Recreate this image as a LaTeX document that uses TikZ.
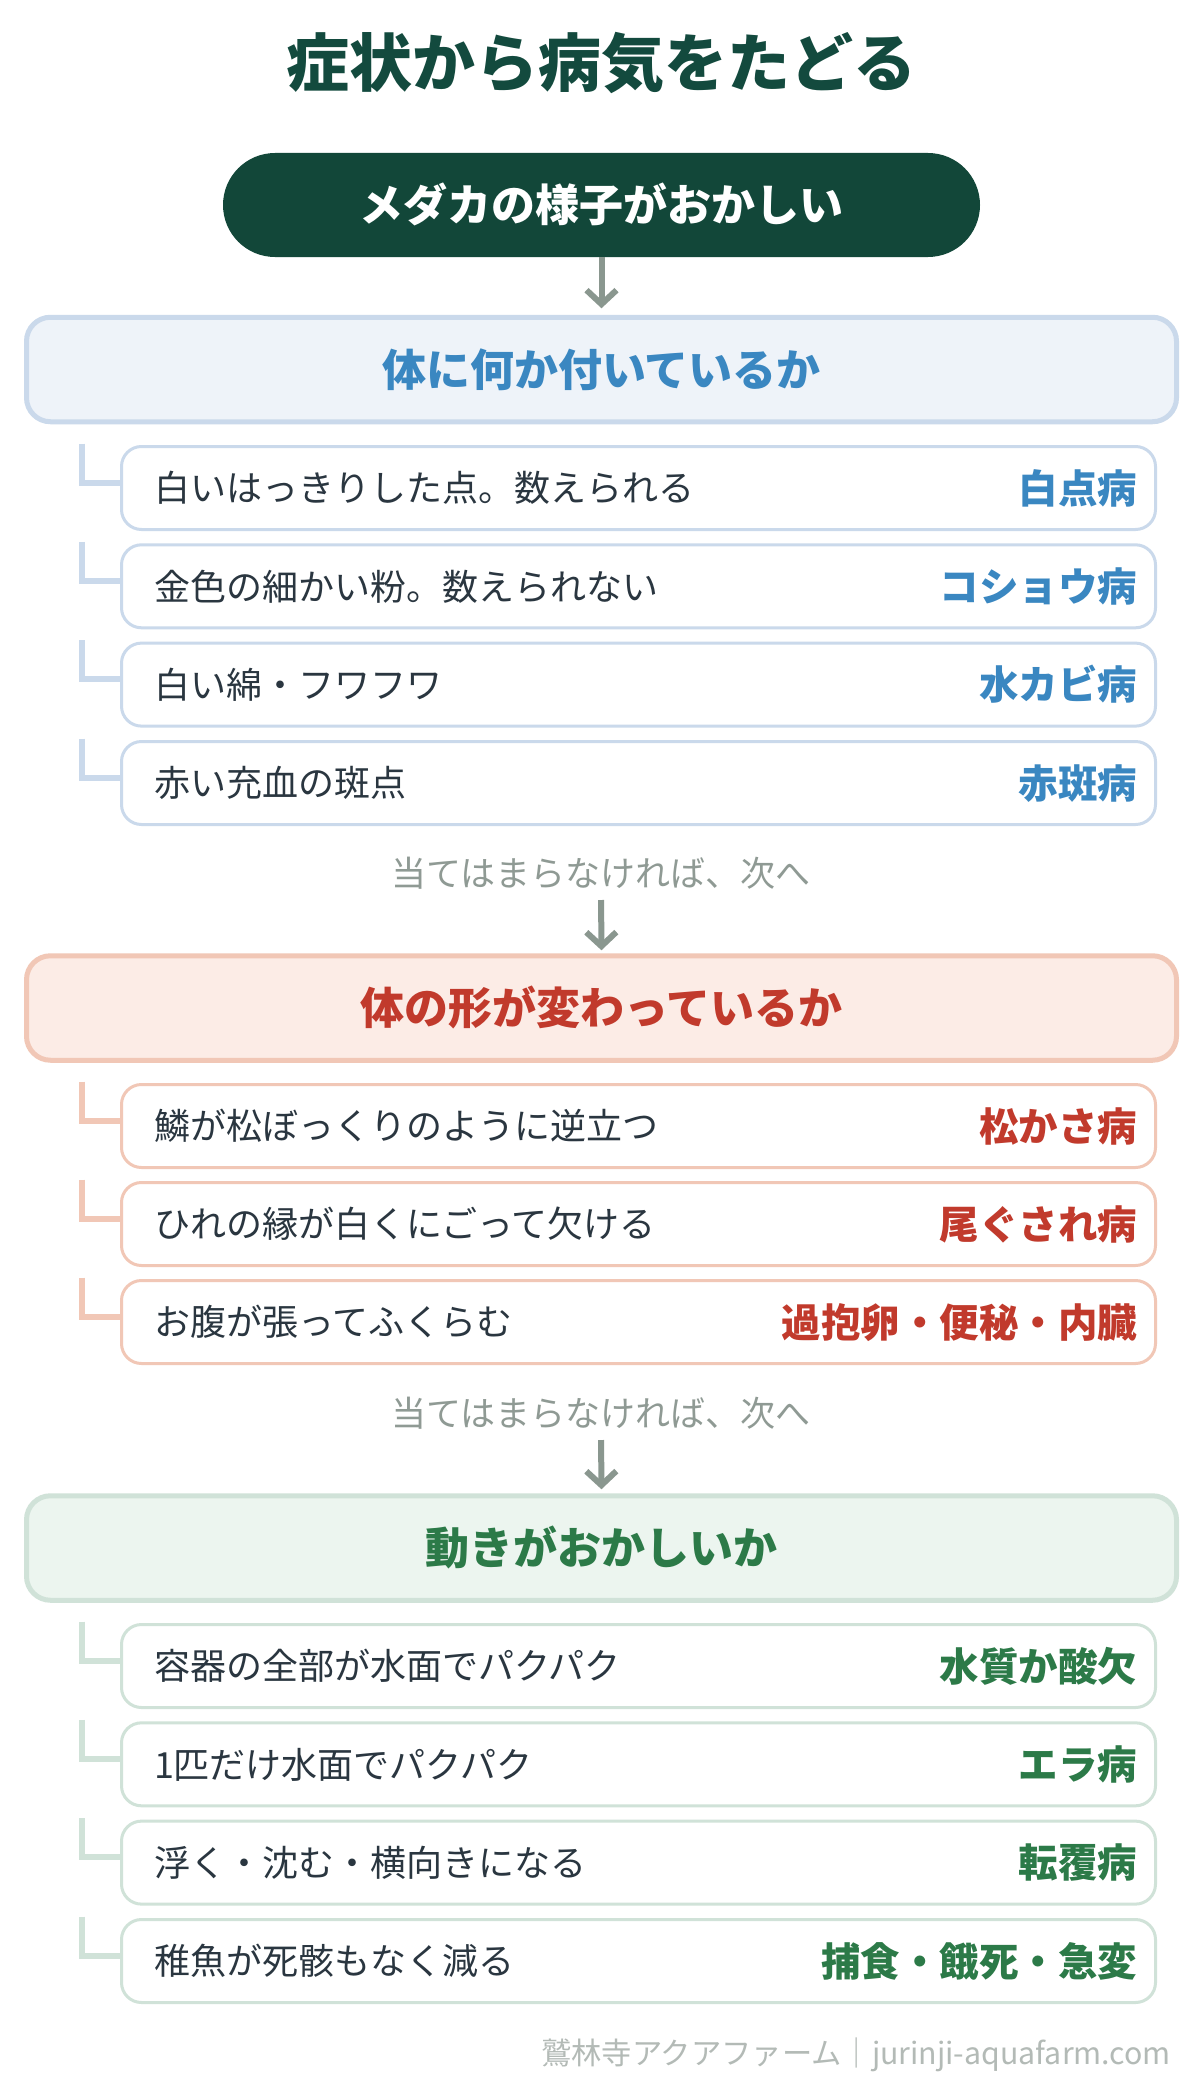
\documentclass[tikz,border=0pt]{standalone}
\usepackage{fontspec}
\setmainfont{Noto Sans CJK JP}
\usetikzlibrary{arrows.meta}
\definecolor{titlegreen}{HTML}{134A3E}
\definecolor{pillfill}{HTML}{124739}
\definecolor{arrowgray}{HTML}{8A978F}
\definecolor{lblgray}{HTML}{8F9A94}
\definecolor{bordblue}{HTML}{CAD9EB}
\definecolor{fillblue}{HTML}{EEF3F9}
\definecolor{txtblue}{HTML}{3A87C1}
\definecolor{bordred}{HTML}{F1C7B6}
\definecolor{fillred}{HTML}{FCECE6}
\definecolor{txtred}{HTML}{C13A2C}
\definecolor{bordgreen}{HTML}{D0E2D8}
\definecolor{fillgreen}{HTML}{ECF5EF}
\definecolor{txtgreen}{HTML}{2C7A48}
\definecolor{darktext}{HTML}{2A3640}
\definecolor{footgray}{HTML}{B3BAB6}
\begin{document}
\begin{tikzpicture}[x=1pt,y=-1pt,
  ttlstyle/.style={inner sep=0, outer sep=0, text=titlegreen, font=\fontsize{63pt}{70pt}\selectfont\bfseries, text height=55.4pt, text depth=7.6pt},
  pillstyle/.style={inner sep=0, outer sep=0, fill=pillfill, text=white, minimum width=757pt, minimum height=104pt, rounded corners=52pt, font=\fontsize{44pt}{50pt}\selectfont\bfseries, text height=38.7pt, text depth=5.3pt},
  qbox/.style={inner sep=0, outer sep=0, line width=5pt, minimum width=1150pt, minimum height=104.5pt, rounded corners=24pt, font=\fontsize{44pt}{50pt}\selectfont\bfseries, text height=38.7pt, text depth=5.3pt},
  itembox/.style={inner sep=0, outer sep=0, line width=3pt, fill=white, minimum width=1034pt, minimum height=83pt, rounded corners=20pt},
  ltxt/.style={inner sep=0, outer sep=0, anchor=west, text=darktext, font=\fontsize{36pt}{42pt}\selectfont, text height=31.7pt, text depth=4.3pt},
  rtxt/.style={inner sep=0, outer sep=0, anchor=east, font=\fontsize{39.5pt}{45pt}\selectfont\bfseries, text height=34.8pt, text depth=4.7pt},
  lbltxt/.style={inner sep=0, outer sep=0, text=lblgray, font=\fontsize{35pt}{41pt}\selectfont, text height=30.8pt, text depth=4.2pt},
  foottxt/.style={inner sep=0, outer sep=0, anchor=east, text=footgray, font=\fontsize{30.3pt}{35pt}\selectfont, text height=26.7pt, text depth=3.6pt},
  arrowline/.style={draw=arrowgray, line width=6pt, -{Straight Barb[length=14pt, width=30pt]}},
  connline/.style={line width=6pt, line cap=butt, line join=miter}
]
\fill[white] (0,0) rectangle (1200,2087);
\useasboundingbox (0,0) rectangle (1200,2087);

% title and start
\node[ttlstyle] (title) at (601,63) {症状から病気をたどる};
\node[pillstyle] (start) at (601.5,205) {メダカの様子がおかしい};

% section 1
\node[qbox, draw=bordblue, fill=fillblue, text=txtblue] (q1) at (601.5,369.5) {体に何か付いているか};
\draw[arrowline, shorten >=9pt] (start.south) -- (q1.north);

\node[itembox, draw=bordblue] (a1) at (638.5,488) {};
\node[itembox, draw=bordblue] (a2) at (638.5,586.3) {};
\node[itembox, draw=bordblue] (a3) at (638.5,684.6) {};
\node[itembox, draw=bordblue] (a4) at (638.5,783) {};
\foreach \n in {a1,a2,a3,a4}
  \draw[connline, draw=bordblue] ([xshift=-39.5pt, yshift=3pt]\n.north west) |- ([yshift=5.5pt]\n.west);
\node[ltxt] (a1l) at (154,488) {白いはっきりした点。数えられる};
\node[rtxt, text=txtblue] (a1r) at (1137,488) {白点病};
\node[ltxt] (a2l) at (154,586.3) {金色の細かい粉。数えられない};
\node[rtxt, text=txtblue] (a2r) at (1137,586.3) {コショウ病};
\node[ltxt] (a3l) at (154,684.6) {白い綿・フワフワ};
\node[rtxt, text=txtblue] (a3r) at (1137,684.6) {水カビ病};
\node[ltxt] (a4l) at (154,783) {赤い充血の斑点};
\node[rtxt, text=txtblue] (a4r) at (1137,783) {赤斑病};

\node[lbltxt] (n1) at (601,873) {当てはまらなければ、次へ};

% section 2
\node[qbox, draw=bordred, fill=fillred, text=txtred] (q2) at (601.5,1008) {体の形が変わっているか};
\draw[arrowline, shorten <=9.5pt, shorten >=5.5pt] (n1.south) -- (q2.north);

\node[itembox, draw=bordred] (b1) at (638.5,1126) {};
\node[itembox, draw=bordred] (b2) at (638.5,1224) {};
\node[itembox, draw=bordred] (b3) at (638.5,1322) {};
\foreach \n in {b1,b2,b3}
  \draw[connline, draw=bordred] ([xshift=-39.5pt, yshift=3pt]\n.north west) |- ([yshift=5.5pt]\n.west);
\node[ltxt] (b1l) at (154,1126) {鱗が松ぼっくりのように逆立つ};
\node[rtxt, text=txtred] (b1r) at (1137,1126) {松かさ病};
\node[ltxt] (b2l) at (154,1224) {ひれの縁が白くにごって欠ける};
\node[rtxt, text=txtred] (b2r) at (1137,1224) {尾ぐされ病};
\node[ltxt] (b3l) at (154,1322) {お腹が張ってふくらむ};
\node[rtxt, text=txtred] (b3r) at (1137,1322) {過抱卵・便秘・内臓};

\node[lbltxt] (n2) at (601,1413) {当てはまらなければ、次へ};

% section 3
\node[qbox, draw=bordgreen, fill=fillgreen, text=txtgreen] (q3) at (601.5,1548) {動きがおかしいか};
\draw[arrowline, shorten <=9.5pt, shorten >=6.5pt] (n2.south) -- (q3.north);

\node[itembox, draw=bordgreen] (c1) at (638.5,1666) {};
\node[itembox, draw=bordgreen] (c2) at (638.5,1764.3) {};
\node[itembox, draw=bordgreen] (c3) at (638.5,1862.6) {};
\node[itembox, draw=bordgreen] (c4) at (638.5,1961) {};
\foreach \n in {c1,c2,c3,c4}
  \draw[connline, draw=bordgreen] ([xshift=-39.5pt, yshift=3pt]\n.north west) |- ([yshift=5.5pt]\n.west);
\node[ltxt] (c1l) at (154,1666) {容器の全部が水面でパクパク};
\node[rtxt, text=txtgreen] (c1r) at (1137,1666) {水質か酸欠};
\node[ltxt] (c2l) at (154,1764.3) {1匹だけ水面でパクパク};
\node[rtxt, text=txtgreen] (c2r) at (1137,1764.3) {エラ病};
\node[ltxt] (c3l) at (154,1862.6) {浮く・沈む・横向きになる};
\node[rtxt, text=txtgreen] (c3r) at (1137,1862.6) {転覆病};
\node[ltxt] (c4l) at (154,1961) {稚魚が死骸もなく減る};
\node[rtxt, text=txtgreen] (c4r) at (1137,1961) {捕食・餓死・急変};

% footer
\node[foottxt] (foot) at (1171,2053) {鷲林寺アクアファーム｜jurinji-aquafarm.com};
\end{tikzpicture}
\end{document}
